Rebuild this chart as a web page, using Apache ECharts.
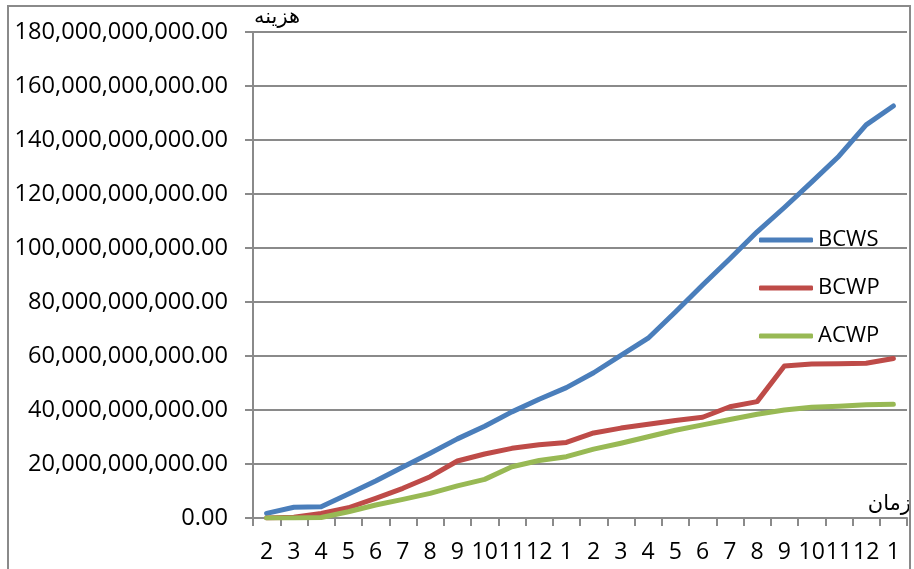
<!DOCTYPE html>
<html>
<head>
<meta charset="utf-8">
<title>BCWS / BCWP / ACWP</title>
<script src="https://cdn.jsdelivr.net/npm/echarts@6/dist/echarts.min.js"></script>
<style>
  html, body { margin: 0; padding: 0; background: #ffffff; }
  #chart { width: 914px; height: 569px; }
</style>
</head>
<body>
<div id="chart"></div>
<script>
// Months of the reporting period
const months = ['2', '3', '4', '5', '6', '7', '8', '9', '10', '11', '12', '1',
                '2', '3', '4', '5', '6', '7', '8', '9', '10', '11', '12', '1'];

// Cumulative cost curves (Rial)
const bcws = [1.7e9, 4.0e9, 4.2e9, 8.9e9, 13.7e9, 18.9e9, 24.0e9, 29.3e9, 34.0e9, 39.3e9, 44.0e9, 48.3e9,
              53.8e9, 60.2e9, 66.6e9, 76.3e9, 86.3e9, 96.0e9, 106.0e9, 115.0e9, 124.4e9, 134.0e9, 145.6e9, 152.6e9];
const bcwp = [0, 0.3e9, 1.7e9, 3.8e9, 7.3e9, 11.0e9, 15.3e9, 21.1e9, 23.7e9, 25.8e9, 27.1e9, 28.0e9,
              31.5e9, 33.3e9, 34.7e9, 36.1e9, 37.3e9, 41.2e9, 43.1e9, 56.3e9, 57.0e9, 57.1e9, 57.3e9, 59.1e9];
const acwp = [0, 0, 0.2e9, 2.3e9, 4.8e9, 6.9e9, 9.1e9, 11.9e9, 14.3e9, 19.0e9, 21.3e9, 22.7e9,
              25.5e9, 27.7e9, 30.1e9, 32.5e9, 34.5e9, 36.5e9, 38.4e9, 40.0e9, 41.0e9, 41.4e9, 41.9e9, 42.1e9];

// Value axis range
const yMin = 0;
const yMax = 180e9;
const yStep = 20e9;

function formatMoney(v) {
  const whole = Math.round(v).toString().replace(/\B(?=(\d{3})+(?!\d))/g, ',');
  return whole + '.00';
}

const FONT = '"Open Sans", "Noto Sans", sans-serif';
const ARABIC_FONT = '"DejaVu Sans", sans-serif';
const GRID_GRAY = '#8a8a8a';

const chart = echarts.init(document.getElementById('chart'), null, { renderer: 'canvas' });

chart.setOption({
  backgroundColor: '#ffffff',
  animation: false,
  grid: { left: 253, right: 7, top: 32, bottom: 51, containLabel: false },
  legend: {
    orient: 'vertical',
    left: 759,
    top: 227,
    padding: 0,
    itemWidth: 54,
    itemHeight: 5,
    itemGap: 22,
    icon: 'roundRect',
    textStyle: { fontFamily: FONT, fontSize: 22, color: '#000000', lineHeight: 26 },
    data: ['BCWS', 'BCWP', 'ACWP']
  },
  xAxis: {
    type: 'category',
    data: months,
    boundaryGap: true,
    name: 'زمان',
    nameLocation: 'end',
    nameGap: 4,
    nameTextStyle: {
      fontFamily: ARABIC_FONT, fontSize: 21, color: '#000000',
      align: 'right', verticalAlign: 'bottom', padding: [0, 0, 3, 0]
    },
    axisLine: { show: true, lineStyle: { color: GRID_GRAY, width: 2 } },
    axisTick: { show: true, length: 8, lineStyle: { color: GRID_GRAY, width: 2 } },
    axisLabel: {
      interval: 0, margin: 23,
      fontFamily: FONT, fontSize: 23, color: '#000000'
    },
    splitLine: { show: false }
  },
  yAxis: {
    type: 'value',
    min: yMin,
    max: yMax,
    interval: yStep,
    name: 'هزینه',
    nameLocation: 'end',
    nameGap: 4,
    nameTextStyle: {
      fontFamily: ARABIC_FONT, fontSize: 21, color: '#000000',
      align: 'left', verticalAlign: 'bottom', padding: [0, 0, 0, 1]
    },
    axisLine: { show: true, lineStyle: { color: GRID_GRAY, width: 2 } },
    axisTick: { show: true, length: 8, lineStyle: { color: GRID_GRAY, width: 2 } },
    axisLabel: {
      margin: 25,
      fontFamily: FONT, fontSize: 23.6, color: '#000000',
      formatter: formatMoney
    },
    splitLine: { show: true, lineStyle: { color: GRID_GRAY, width: 2 } }
  },
  series: [
    {
      name: 'BCWS', type: 'line', data: bcws,
      symbol: 'none', smooth: false,
      itemStyle: { color: '#4a7ebb' },
      lineStyle: { color: '#4a7ebb', width: 5, cap: 'round', join: 'round' }
    },
    {
      name: 'BCWP', type: 'line', data: bcwp,
      symbol: 'none', smooth: false,
      itemStyle: { color: '#be4b48' },
      lineStyle: { color: '#be4b48', width: 5, cap: 'round', join: 'round' }
    },
    {
      name: 'ACWP', type: 'line', data: acwp,
      symbol: 'none', smooth: false,
      itemStyle: { color: '#98b954' },
      lineStyle: { color: '#98b954', width: 5, cap: 'round', join: 'round' }
    }
  ],
  graphic: [
    // chart frame
    {
      type: 'rect', z: 100, silent: true,
      shape: { x: 8, y: 6, width: 902, height: 600 },
      style: { fill: 'none', stroke: GRID_GRAY, lineWidth: 2 }
    },
    // area outside the frame on the right
    {
      type: 'rect', z: 99, silent: true,
      shape: { x: 911, y: 0, width: 10, height: 569 },
      style: { fill: '#ffffff' }
    }
  ]
});
</script>
</body>
</html>
